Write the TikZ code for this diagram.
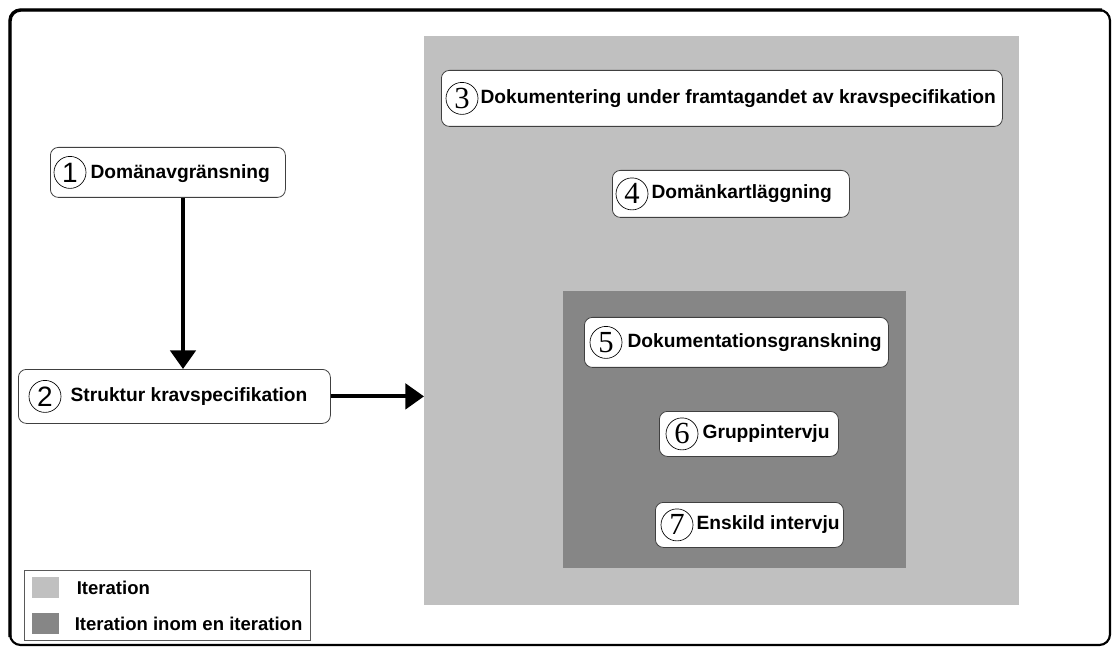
\documentclass[tikz,border=0pt]{standalone}
\usepackage{fontspec}
\setmainfont{Liberation Sans}
\newfontfamily\serifnum{Liberation Serif}
\usetikzlibrary{arrows.meta,calc}
\definecolor{iterlight}{RGB}{192,192,192}
\definecolor{iterdark}{RGB}{134,134,134}
\begin{document}
\begin{tikzpicture}[x=0.75pt,y=-0.75pt,
  region/.style={anchor=north west, inner sep=0pt, draw=none},
  stagebox/.style={draw=black!75, line width=0.6pt, fill=white, rounded corners=6pt, inner sep=0pt, anchor=north west},
  num/.style={circle, draw, line width=0.5pt, minimum size=24pt, inner sep=0pt},
  sansnum/.style={num, font=\fontsize{21}{21}\selectfont},
  sernum/.style={num, font=\serifnum\fontsize{23}{23}\selectfont},
  lbl/.style={font=\bfseries\fontsize{14.4}{16}\selectfont, inner sep=0pt, anchor=west},
  leglbl/.style={font=\bfseries\fontsize{13.9}{16}\selectfont, inner sep=0pt, anchor=west},
  flow/.style={line width=3pt, -{Triangle[length=14pt,width=19pt]}},
  swatch/.style={anchor=north west, inner sep=0pt, minimum width={27*0.75pt}, minimum height={21*0.75pt}},
]
\useasboundingbox (0,0) rectangle (1113,648);
\fill[white] (0,0) rectangle (1113,648);

% outer frame
\draw[line width=1.6pt, rounded corners=8pt] (10,645) -- (10,10) -- (1110,10) -- (1110,645) -- cycle;
\draw[line width=2.6pt, rounded corners=8pt] (10,637) -- (10,10) -- (1102,10);

% iteration regions
\node[region, fill=iterlight, minimum width={595*0.75pt}, minimum height={569*0.75pt}] (iter) at (424,36) {};
\node[region, fill=iterdark, minimum width={343*0.75pt}, minimum height={277*0.75pt}] (inner) at (563,291) {};

% stages
\node[stagebox, minimum width={235*0.75pt}, minimum height={50*0.75pt}] (n1) at (50,147) {};
\node[sansnum] (c1) at ($(n1.west)+(20,0)$) {1};
\node[lbl] (t1) at ($(c1.east)+(4,1.5)$) {Domänavgränsning};

\node[stagebox, minimum width={312*0.75pt}, minimum height={54*0.75pt}] (n2) at (18,369) {};
\node[sansnum] (c2) at ($(n2.west)+(27,0)$) {2};
\node[lbl] (t2) at ($(c2.east)+(9,0)$) {Struktur kravspecifikation};

\node[stagebox, minimum width={561*0.75pt}, minimum height={56*0.75pt}] (n3) at (441,70) {};
\node[sernum] (c3) at ($(n3.west)+(21,0)$) {3};
\node[lbl] (t3) at ($(c3.east)+(2,0)$) {Dokumentering under framtagandet av kravspecifikation};

\node[stagebox, minimum width={237*0.75pt}, minimum height={47*0.75pt}] (n4) at (612,170) {};
\node[sernum] (c4) at ($(n4.west)+(20,0)$) {4};
\node[lbl] (t4) at ($(c4.east)+(3,0)$) {Domänkartläggning};

\node[stagebox, minimum width={304*0.75pt}, minimum height={50*0.75pt}] (n5) at (584,317) {};
\node[sernum] (c5) at ($(n5.west)+(22,0)$) {5};
\node[lbl] (t5) at ($(c5.east)+(5,0)$) {Dokumentationsgranskning};

\node[stagebox, minimum width={179*0.75pt}, minimum height={45*0.75pt}] (n6) at (659,411) {};
\node[sernum] (c6) at ($(n6.west)+(23,0)$) {6};
\node[lbl] (t6) at ($(c6.east)+(4,0)$) {Gruppintervju};

\node[stagebox, minimum width={188*0.75pt}, minimum height={45*0.75pt}] (n7) at (655,502) {};
\node[sernum] (c7) at ($(n7.west)+(22,0)$) {7};
\node[lbl] (t7) at ($(c7.east)+(3,0)$) {Enskild intervju};

% connectors
\coordinate (ax) at (183,0);
\draw[flow] (n1.south -| ax) -- (n2.north -| ax);
\draw[flow] (n2.east) -- (n2.east -| iter.west);

% legend
\node[region, draw=black!65, line width=0.6pt, fill=white, minimum width={286*0.75pt}, minimum height={70*0.75pt}] (legend) at (24,570) {};
\node[swatch, fill=iterlight] (s1) at (32,577) {};
\node[swatch, fill=iterdark] (s2) at (32,613) {};
\node[leglbl] (l1) at ($(s1.east)+(17,0)$) {Iteration};
\node[leglbl] (l2) at ($(s2.east)+(15,0)$) {Iteration inom en iteration};
\end{tikzpicture}
\end{document}
